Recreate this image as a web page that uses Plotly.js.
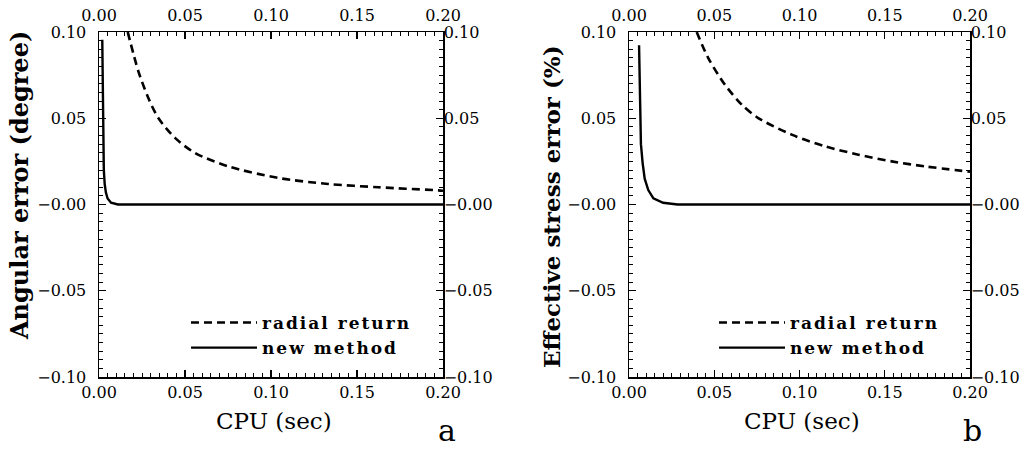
<!DOCTYPE html>
<html><head><meta charset="utf-8">
<script src="https://cdn.plot.ly/plotly-3.0.1.min.js"></script>
<style>html,body{margin:0;padding:0;background:#fff}</style>
</head><body><div id="chart" style="width:1033px;height:451px"></div>
<script>
// ---- Data ----
const xRadialA = [0.0167, 0.0229, 0.0287, 0.0345, 0.0442, 0.0558, 0.0752, 0.1042, 0.1333, 0.1624, 0.1973, 0.2000];
const yRadialA = [0.100, 0.0772, 0.0617, 0.0501, 0.0386, 0.0299, 0.0221, 0.0154, 0.0119, 0.0100, 0.0082, 0.0080];
const xNewA = [0.0019, 0.0022, 0.0025, 0.0028, 0.0033, 0.0040, 0.0050, 0.0070, 0.0110, 0.2000];
const yNewA = [0.0955, 0.070, 0.040, 0.020, 0.012, 0.007, 0.0035, 0.0010, 0.0, 0.0];

const xRadialB = [0.0397, 0.0465, 0.0563, 0.0661, 0.0758, 0.0954, 0.1150, 0.1345, 0.1541, 0.1736, 0.2000];
const yRadialB = [0.100, 0.0849, 0.0694, 0.0579, 0.0501, 0.0405, 0.0337, 0.0289, 0.0250, 0.0221, 0.0190];
const xNewB = [0.0059, 0.0062, 0.0065, 0.0070, 0.0080, 0.0092, 0.0113, 0.0143, 0.0200, 0.0285, 0.2000];
const yNewB = [0.0923, 0.075, 0.050, 0.035, 0.024, 0.015, 0.0084, 0.0036, 0.0010, 0.0, 0.0];

const seriesNames = ['radial return', 'new method'];
const xTickVals = [0, 0.05, 0.10, 0.15, 0.20];
const xTickText = ['0.00', '0.05', '0.10', '0.15', '0.20'];
const yTickVals = [-0.10, -0.05, 0, 0.05, 0.10];
const yTickText = ['\u22120.10', '\u22120.05', '\u22120.00', '0.05', '0.10'];
const xTitle = 'CPU (sec)';
const yTitleA = 'Angular error (degree)';
const yTitleB = 'Effective stress error (%)';
const panelLabels = ['a', 'b'];

// ---- Styling ----
const W = 1033, H = 451;
const serif = 'DejaVu Serif, Liberation Serif, serif';
const tickFont = {family: serif, size: 16, color: '#000'};
const yDom = [1 - 377 / H, 1 - 32 / H];
const domA = [99 / W, 443 / W];
const domB = [629 / W, 970 / W];
const px = (v) => v / W;
const py = (v) => 1 - v / H;

function xAx(domain, extra) {
  return Object.assign({
    domain: domain, range: [0, 0.2], tickmode: 'array', tickvals: xTickVals, ticktext: xTickText,
    ticks: 'inside', ticklen: 7, tickwidth: 1.3, tickcolor: '#000',
    minor: {dtick: 0.005, tick0: 0, ticks: 'inside', ticklen: 4, tickwidth: 1, tickcolor: '#000'},
    showline: true, linecolor: '#000', linewidth: 1.5, showgrid: false, zeroline: false,
    tickfont: tickFont, fixedrange: true
  }, extra);
}
function yAx(extra) {
  return Object.assign({
    domain: yDom, range: [-0.1, 0.1], tickmode: 'array', tickvals: yTickVals, ticktext: yTickText,
    ticks: 'inside', ticklen: 7, tickwidth: 1.3, tickcolor: '#000',
    minor: {dtick: 0.005, tick0: 0, ticks: 'inside', ticklen: 4, tickwidth: 1, tickcolor: '#000'},
    showline: true, linecolor: '#000', linewidth: 1.5, showgrid: false, zeroline: false,
    tickfont: tickFont, fixedrange: true
  }, extra);
}

const dashStyle = {color: '#000', width: 2.6, dash: '8px,5px', shape: 'spline', smoothing: 0.8};
const solidStyle = {color: '#000', width: 2.4};
const spaced = (s) => '<span style="letter-spacing:2px">' + s + '</span>';

const traces = [
  {x: xRadialA, y: yRadialA, mode: 'lines', name: spaced(seriesNames[0]), line: dashStyle, xaxis: 'x', yaxis: 'y', legend: 'legend'},
  {x: xNewA, y: yNewA, mode: 'lines', name: spaced(seriesNames[1]), line: solidStyle, xaxis: 'x', yaxis: 'y', legend: 'legend'},
  {x: xRadialB, y: yRadialB, mode: 'lines', name: spaced(seriesNames[0]), line: dashStyle, xaxis: 'x3', yaxis: 'y3', legend: 'legend2'},
  {x: xNewB, y: yNewB, mode: 'lines', name: spaced(seriesNames[1]), line: solidStyle, xaxis: 'x3', yaxis: 'y3', legend: 'legend2'},
  {x: [null], y: [null], mode: 'lines', showlegend: false, xaxis: 'x2', yaxis: 'y2', hoverinfo: 'skip'},
  {x: [null], y: [null], mode: 'lines', showlegend: false, xaxis: 'x4', yaxis: 'y4', hoverinfo: 'skip'}
];

const legFont = {family: serif, size: 17, color: '#000', weight: 'bold'};
const ann = (text, x, y, size, bold, angle) => ({
  text: text, xref: 'paper', yref: 'paper', x: px(x), y: py(y), xanchor: 'center', yanchor: 'middle',
  showarrow: false, textangle: angle || 0,
  font: {family: serif, size: size, color: '#000', weight: bold ? 'bold' : 'normal'}
});

const layout = {
  width: W, height: H,
  margin: {l: 0, r: 0, t: 0, b: 0},
  paper_bgcolor: '#fff', plot_bgcolor: '#fff',
  showlegend: true,
  xaxis: xAx(domA, {anchor: 'y', side: 'bottom'}),
  xaxis2: xAx(domA, {anchor: 'y', overlaying: 'x', side: 'top', ticklabelstandoff: 3}),
  yaxis: yAx({anchor: 'x', side: 'left', ticklabelstandoff: 8}),
  yaxis2: yAx({anchor: 'x', overlaying: 'y', side: 'right', ticklabelstandoff: -4}),
  xaxis3: xAx(domB, {anchor: 'y3', side: 'bottom'}),
  xaxis4: xAx(domB, {anchor: 'y3', overlaying: 'x3', side: 'top', ticklabelstandoff: 3}),
  yaxis3: yAx({anchor: 'x3', side: 'left', ticklabelstandoff: 8}),
  yaxis4: yAx({anchor: 'x3', overlaying: 'y3', side: 'right', ticklabelstandoff: -4}),
  legend: {x: px(186), xanchor: 'left', y: py(305), yanchor: 'top', bgcolor: 'rgba(0,0,0,0)', font: legFont, itemwidth: 66, tracegroupgap: 0},
  legend2: {x: px(714), xanchor: 'left', y: py(305), yanchor: 'top', bgcolor: 'rgba(0,0,0,0)', font: legFont, itemwidth: 66, tracegroupgap: 0},
  annotations: [
    ann(xTitle, 274, 421, 23, false),
    ann(xTitle, 802, 421, 23, false),
    ann(yTitleA, 20, 186, 24, true, -90),
    ann(yTitleB, 551, 207, 23, true, -90),
    ann(panelLabels[0], 447, 430, 30, false),
    ann(panelLabels[1], 972, 430, 30, false)
  ]
};

Plotly.newPlot('chart', traces, layout, {displayModeBar: false, staticPlot: true});
</script>
</body></html>
